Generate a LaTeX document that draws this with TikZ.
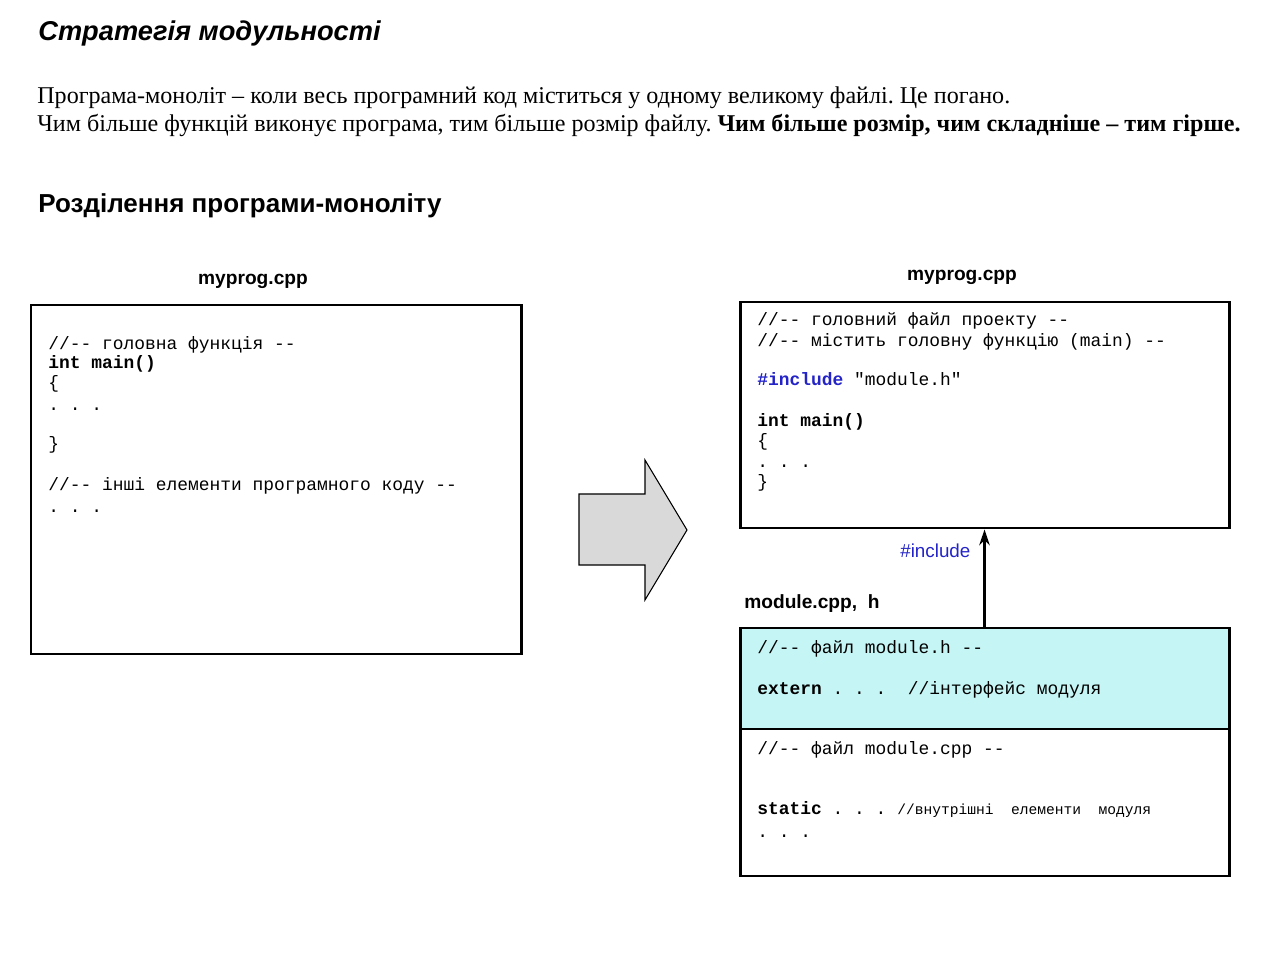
\documentclass[tikz,border=0pt]{standalone}
\usepackage{fontspec}
\setmainfont{Liberation Serif}
\newfontfamily\headfont{Liberation Sans}
\newfontfamily\codefont{Liberation Mono}
\usetikzlibrary{arrows.meta,positioning,calc,fit}
\frenchspacing

\definecolor{modcyan}{RGB}{198,245,245}
\definecolor{incblue}{RGB}{35,35,200}
\definecolor{arrgray}{RGB}{217,217,217}

\tikzset{
  filebox/.style={draw=black, line width=1.7pt, inner sep=0pt},
  code/.style={anchor=base west, inner sep=0pt, font=\codefont\fontsize{10.2}{12}\selectfont},
  smallcode/.style={anchor=base west, inner sep=0pt, font=\codefont\fontsize{8.3}{10}\selectfont},
  fname/.style={anchor=base, inner sep=0pt, font=\headfont\bfseries\fontsize{10.9}{13}\selectfont},
  body/.style={anchor=base west, inner sep=0pt, font=\fontsize{13.7}{16}\selectfont}
}

\begin{document}
\begin{tikzpicture}[x=0.02cm, y=-0.02cm]
  % Define dimensions
  \useasboundingbox (0,0) rectangle (1280,955);

  % Titles and text
  \node[anchor=base west, inner sep=0pt, font=\headfont\bfseries\itshape\fontsize{15.5}{18}\selectfont] (title) at (38,41) {Стратегія модульності};
  \node[body] (line1) at (37,104) {Програма-моноліт – коли весь програмний код міститься у одному великому файлі. Це погано.};
  \node[body] (line2) at (37,132) {Чим більше функцій виконує програма, тим більше розмір файлу. \textbf{Чим більше розмір, чим складніше – тим гірше.}};
  \node[anchor=base west, inner sep=0pt, font=\headfont\bfseries\fontsize{14.8}{17}\selectfont] (split) at (38,213) {Розділення програми-моноліту};

  % Define points
  \coordinate (A1) at (31,305);
  \coordinate (A2) at (521,654);
  \coordinate (B1) at (740,302);
  \coordinate (B2) at (1229,528);
  \coordinate (C1) at (740,628);
  \coordinate (C2) at (1229,729);
  \coordinate (D2) at (1229,876);

  % Draw boxes
  \node[filebox, fit=(A1)(A2)] (mono) {};
  \node[filebox, fit=(B1)(B2)] (mainfile) {};
  \node[filebox, fill=modcyan, fit=(C1)(C2)] (modh) {};
  \node[filebox, fit=(C2)(C1|-D2)] (modcpp) {};

  % Big arrow
  \draw[fill=arrgray, line width=0.6pt] (579,494) -- (645,494) -- (645,460) -- (687,530) -- (645,600) -- (645,565) -- (579,565) -- cycle;

  % File names
  \node[fname] (mononame) at (253,285) {myprog.cpp};
  \node[fname] (mainname) at (962,281) {myprog.cpp};
  \node[fname, anchor=base west] (modname) at (744,608) {module.cpp,~~h};

  % Left box code
  \node[code] (m1) at (48,350) {//-- головна функція --};
  \node[code] (m2) at (48,369) {\bfseries int main()};
  \node[code] (m3) at (48,389) {\{};
  \node[code] (m4) at (48,411) {.~.~.};
  \node[code] (m5) at (48,450) {\}};
  \node[code] (m6) at (48,491) {//-- інші елементи програмного коду --};
  \node[code] (m7) at (48,513) {.~.~.};

  % Main file code
  \node[code] (p1) at (757,326) {//-- головний файл проекту --};
  \node[code] (p2) at (757,347) {//-- містить головну функцію (main) --};
  \node[code] (p3) at (757,386) {\textbf{\color{incblue}\#include} "module.h"};
  \node[code] (p4) at (757,427) {\bfseries int main()};
  \node[code] (p5) at (757,447) {\{};
  \node[code] (p6) at (757,468) {.~.~.};
  \node[code] (p7) at (757,488) {\}};

  % Module code
  \node[code] (h1) at (757,653) {//-- файл module.h --};
  \node[code] (h2) at (757,694) {\textbf{extern} .~.~.~~//інтерфейс модуля};
  \node[code] (c1) at (757,754) {//-- файл module.cpp --};
  \node[code] (c2) at (757,814) {\textbf{static} .~.~.};
  \node[smallcode] (c3) at (897,814) {//внутрішні~~елементи~~модуля};
  \node[code] (c4) at (757,837) {.~.~.};

  % Include arrow
  \draw[line width=1.4pt, -{Stealth[length=9pt,width=6pt]}] (modh.north) -- (mainfile.south) node[pos=0.78, left=4pt, text=incblue, font=\headfont\fontsize{10.7}{13}\selectfont] (inc) {\#include};

\end{tikzpicture}
\end{document}
